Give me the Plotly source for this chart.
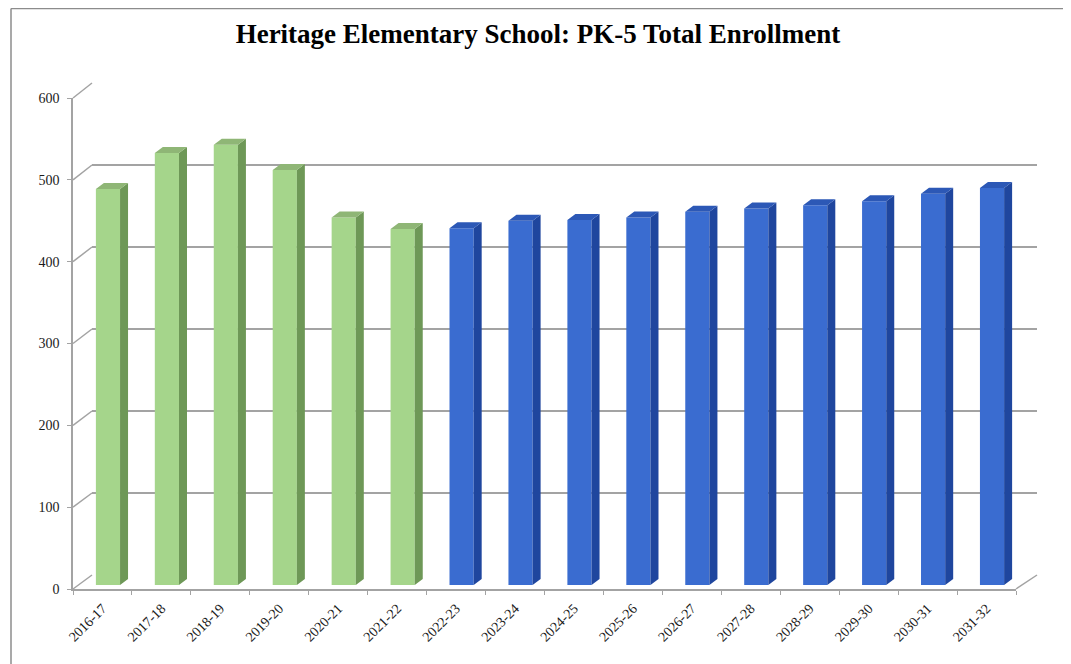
import plotly.graph_objects as go

# ---------------- data ----------------
categories = ["2016-17", "2017-18", "2018-19", "2019-20", "2020-21", "2021-22",
              "2022-23", "2023-24", "2024-25", "2025-26", "2026-27", "2027-28",
              "2028-29", "2029-30", "2030-31", "2031-32"]
actual_values = [484, 528, 538, 507, 449, 435, None, None, None, None, None, None, None, None, None, None]
projected_values = [None, None, None, None, None, None, 436, 445, 446, 449, 456, 460, 464, 469, 478, 485]
y_ticks = [0, 100, 200, 300, 400, 500, 600]
title_text = "Heritage Elementary School: PK-5 Total Enrollment"

# ---------------- geometry (pixels, in screen coordinates) ----------------
W, H = 1071, 664
PAGE_OFFSET = 8                                   # default body margin of the html page
FRONT = dict(x0=73, x1=1016, yb=589, yt=98)     # front plane (axis labels)
BACK = dict(x0=92, x1=1037, yb=575, yt=83)      # back wall (gridlines)
BARP = dict(x0=78.5, x1=1021.5, yb=585, yt=94)  # bar front faces
YMAX = 600
N = len(categories)
GRID = "#a3a3a3"
FONT = "Liberation Serif"


def px(x):
    return (x - PAGE_OFFSET) / W


def py(y):
    return 1 - (y - PAGE_OFFSET) / H


def dom_x(p):
    return [px(p["x0"]), px(p["x1"])]


def dom_y(p):
    return [py(p["yb"]), py(p["yt"])]


def plane_y(p, v):
    return p["yb"] + (p["yt"] - p["yb"]) * v / YMAX


fig = go.Figure()

# subplot 1: back wall gridlines (drawn first)
fig.add_trace(go.Scatter(x=[0], y=[0], mode="markers", marker=dict(opacity=0),
                         hoverinfo="skip", showlegend=False, xaxis="x", yaxis="y"))

# subplot 2: front axes
fig.add_trace(go.Scatter(x=categories, y=[0] * N, mode="markers", marker=dict(opacity=0),
                         hoverinfo="skip", showlegend=False, xaxis="x2", yaxis="y2"))

# subplot 3: bars with pseudo-3D faces
bar_w = 0.41
slot_px = (BARP["x1"] - BARP["x0"]) / N
ddx = 8 / slot_px                                   # depth offset in category units
ddy = 6 / ((BARP["yb"] - BARP["yt"]) / YMAX)        # depth offset in value units

series = [
    (actual_values, "#a5d58b", "#6e9857", "#8fb676"),
    (projected_values, "#3a6cd0", "#1f469e", "#2c58b6"),
]
for vals, c_front, c_side, c_top in series:
    xs = [i for i, v in enumerate(vals) if v is not None]
    ys = [v for v in vals if v is not None]
    fig.add_trace(go.Bar(x=xs, y=ys, width=bar_w, marker=dict(color=c_front, line=dict(width=0)),
                         showlegend=False, hoverinfo="skip", xaxis="x3", yaxis="y3"))
    sx, sy, tx, ty = [], [], [], []
    for i, v in zip(xs, ys):
        r = i + bar_w / 2
        l = i - bar_w / 2
        sx += [r, r + ddx, r + ddx, r, r, None]
        sy += [0, ddy, v + ddy, v, 0, None]
        tx += [l, l + ddx, r + ddx, r, l, None]
        ty += [v, v + ddy, v + ddy, v, v, None]
    fig.add_trace(go.Scatter(x=sx, y=sy, mode="lines", fill="toself", fillcolor=c_side,
                             line=dict(width=0, color=c_side), hoverinfo="skip",
                             showlegend=False, xaxis="x3", yaxis="y3"))
    fig.add_trace(go.Scatter(x=tx, y=ty, mode="lines", fill="toself", fillcolor=c_top,
                             line=dict(width=0, color=c_top), hoverinfo="skip",
                             showlegend=False, xaxis="x3", yaxis="y3"))

# side-wall and floor diagonals, computed from tick values
shapes = []
for v in y_ticks:
    shapes.append(dict(type="line", xref="paper", yref="paper",
                       x0=px(FRONT["x0"]), y0=py(plane_y(FRONT, v)),
                       x1=px(BACK["x0"]), y1=py(plane_y(BACK, v)),
                       line=dict(color=GRID, width=1.5), layer="below"))
shapes.append(dict(type="line", xref="paper", yref="paper",
                   x0=px(FRONT["x1"]), y0=py(plane_y(FRONT, 0)),
                   x1=px(BACK["x1"]), y1=py(plane_y(BACK, 0)),
                   line=dict(color=GRID, width=1.5), layer="below"))
# outer chart border (left, top, right edges)
BORDER = dict(x0=11, x1=1065, y0=8.5, y1=H + 20)
border_line = dict(color="#8c8c8c", width=1.5)
for (ax, ay, bx, by) in [(BORDER["x0"], BORDER["y0"], BORDER["x1"], BORDER["y0"]),
                         (BORDER["x0"], BORDER["y0"], BORDER["x0"], BORDER["y1"]),
                         (BORDER["x1"], BORDER["y0"], BORDER["x1"], BORDER["y1"])]:
    shapes.append(dict(type="line", xref="paper", yref="paper",
                       x0=px(ax), y0=py(ay), x1=px(bx), y1=py(by), line=border_line))

fig.update_layout(
    width=W, height=H,
    margin=dict(l=0, r=0, t=0, b=0, pad=0, autoexpand=False),
    paper_bgcolor="white", plot_bgcolor="rgba(0,0,0,0)",
    barmode="overlay",
    shapes=shapes,
    title=dict(text="<b>" + title_text + "</b>", x=px(538), y=py(34),
               xanchor="center", yanchor="middle", automargin=False,
               font=dict(family=FONT, size=27, color="black")),
    xaxis=dict(domain=dom_x(BACK), range=[0, 1], showgrid=False, zeroline=False,
               showticklabels=False, showline=False, anchor="y", automargin=False),
    yaxis=dict(domain=dom_y(BACK), range=[0, YMAX], tickvals=y_ticks, showgrid=True,
               gridcolor=GRID, gridwidth=1.5, zeroline=False, showticklabels=False,
               showline=False, anchor="x", automargin=False),
    xaxis2=dict(domain=dom_x(FRONT), type="category", categoryorder="array",
                categoryarray=categories, range=[-0.5, N - 0.5], showgrid=False,
                zeroline=False, showline=True, linecolor=GRID, linewidth=1.5,
                ticks="outside", tickson="boundaries", ticklen=4, tickcolor=GRID,
                tickangle=-45, ticklabelstandoff=4, automargin=False,
                tickfont=dict(family=FONT, size=14, color="#1a1a1a"), anchor="y2"),
    yaxis2=dict(domain=dom_y(FRONT), range=[0, YMAX], tickvals=y_ticks, showgrid=False,
                zeroline=False, showline=True, linecolor=GRID, linewidth=1.5,
                ticks="outside", ticklen=4, tickcolor=GRID, ticklabelstandoff=5,
                automargin=False,
                tickfont=dict(family=FONT, size=14, color="#1a1a1a"), anchor="x2"),
    xaxis3=dict(domain=dom_x(BARP), range=[-0.5, N - 0.5], visible=False, anchor="y3",
                automargin=False),
    yaxis3=dict(domain=dom_y(BARP), range=[0, YMAX], visible=False, anchor="x3",
                automargin=False),
)

fig.write_html("out.html")
